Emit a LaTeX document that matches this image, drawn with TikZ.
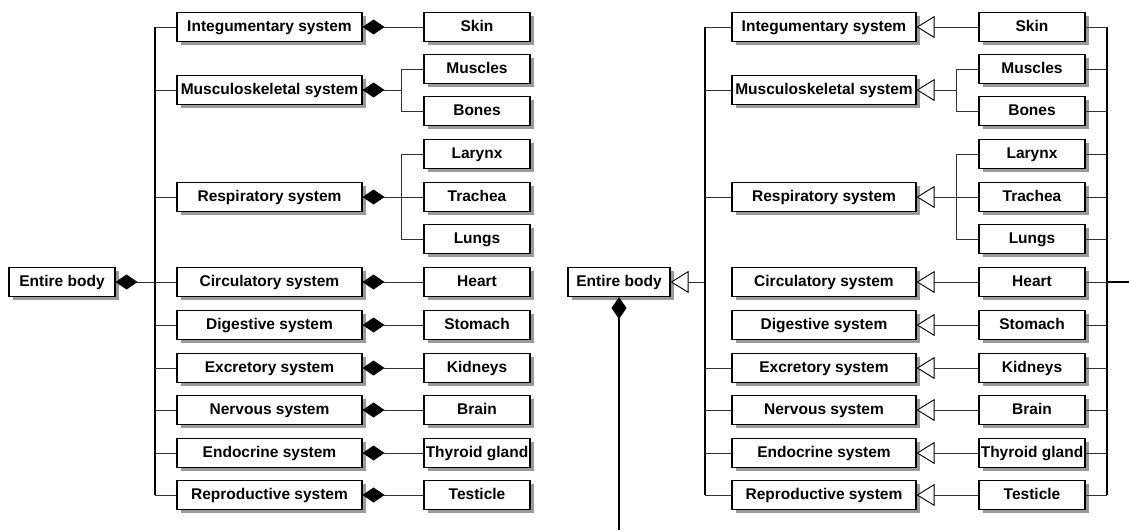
\documentclass[tikz,border=0pt]{standalone}
\usepackage{fontspec}
\setmainfont{Liberation Sans}
\usetikzlibrary{arrows.meta,positioning,shadows}
\definecolor{Shade}{HTML}{9A9A9A}
\definecolor{Wire}{HTML}{333333}
\tikzset{
  partbox/.style={draw, line width=1.1pt, fill=white, minimum height=29pt,
    minimum width=#1, inner sep=1pt, text height=11pt, text depth=1.5pt,
    font=\bfseries\fontsize{15.5}{18}\selectfont,
    general shadow={fill=Shade, shadow xshift=3.5pt, shadow yshift=-3.5pt}},
  partbox/.default={106pt},
  link/.style={line width=0.9pt, color=Wire},
  trunk/.style={line width=1.2pt, color=black},
  comp/.style={link, {Diamond[length=22pt,width=15pt,color=black,fill=black]}-},
  gen/.style={link, {Triangle[open,length=18pt,width=22pt,color=black,fill=white]}-},
}

\begin{document}
\begin{tikzpicture}[x=1pt, y=-1pt]
  \useasboundingbox (0,0) rectangle (1129,530);

  % ---- composition tree
  \node[partbox] (Lbody) at (62,282) {Entire body};
  \foreach \n/\t/\y in {integ/Integumentary system/27, musc/Musculoskeletal system/90,
      resp/Respiratory system/197, circ/Circulatory system/282, dige/Digestive system/325,
      excr/Excretory system/368, nerv/Nervous system/410, endo/Endocrine system/453,
      repr/Reproductive system/495}
    \node[partbox=185pt] (L\n) at (269.5,\y) {\t};
  \foreach \n/\t/\y in {skin/Skin/27, muscles/Muscles/69, bones/Bones/111, larynx/Larynx/154,
      trachea/Trachea/197, lungs/Lungs/239, heart/Heart/282, stomach/Stomach/325,
      kidneys/Kidneys/368, brain/Brain/410, thyroid/Thyroid gland/453, testicle/Testicle/495}
    \node[partbox] (L\n) at (477,\y) {\t};
  \coordinate (lt) at (155,0);
  \coordinate (ls) at (401,0);

  \draw[comp] (Lbody.east) -- (Lbody.east -| lt);
  \draw[trunk] (Linteg.west -| lt) -- (Lrepr.west -| lt);
  \foreach \n in {integ,musc,resp,circ,dige,excr,nerv,endo,repr}
    \draw[link] (L\n.west) -- (L\n.west -| lt);
  \foreach \a/\b in {integ/skin, circ/heart, dige/stomach, excr/kidneys, nerv/brain,
      endo/thyroid, repr/testicle}
    \draw[comp] (L\a.east) -- (L\b.west);
  \draw[comp] (Lmusc.east) -- (Lmusc.east -| ls);
  \draw[comp] (Lresp.east) -- (Lresp.east -| ls);
  \draw[link] (Lmuscles.west -| ls) -- (Lbones.west -| ls);
  \draw[link] (Llarynx.west -| ls) -- (Llungs.west -| ls);
  \foreach \n in {muscles,bones,larynx,trachea,lungs}
    \draw[link] (L\n.west) -- (L\n.west -| ls);

  % ---- generalisation tree
  \node[partbox=102pt] (Rbody) at (619,282) {Entire body};
  \foreach \n/\t/\y in {integ/Integumentary system/27, musc/Musculoskeletal system/90,
      resp/Respiratory system/197, circ/Circulatory system/282, dige/Digestive system/325,
      excr/Excretory system/368, nerv/Nervous system/410, endo/Endocrine system/453,
      repr/Reproductive system/495}
    \node[partbox=184pt] (R\n) at (824,\y) {\t};
  \foreach \n/\t/\y in {skin/Skin/27, muscles/Muscles/69, bones/Bones/111, larynx/Larynx/154,
      trachea/Trachea/197, lungs/Lungs/239, heart/Heart/282, stomach/Stomach/325,
      kidneys/Kidneys/368, brain/Brain/410, thyroid/Thyroid gland/453, testicle/Testicle/495}
    \node[partbox] (R\n) at (1032,\y) {\t};
  \coordinate (rt) at (705,0);
  \coordinate (rs) at (956,0);
  \coordinate (rr) at (1107,0);
  \coordinate (edge) at (1129,282);
  \coordinate (floor) at (619,530);

  \draw[gen] (Rbody.east) -- (Rbody.east -| rt);
  \draw[trunk] (Rinteg.west -| rt) -- (Rrepr.west -| rt);
  \foreach \n in {integ,musc,resp,excr,nerv,endo,repr}
    \draw[link] (R\n.west) -- (R\n.west -| rt);
  \foreach \a/\b in {integ/skin, circ/heart, dige/stomach, excr/kidneys, nerv/brain,
      endo/thyroid, repr/testicle}
    \draw[gen] (R\a.east) -- (R\b.west);
  \draw[gen] (Rmusc.east) -- (Rmusc.east -| rs);
  \draw[gen] (Rresp.east) -- (Rresp.east -| rs);
  \draw[link] (Rmuscles.west -| rs) -- (Rbones.west -| rs);
  \draw[link] (Rlarynx.west -| rs) -- (Rlungs.west -| rs);
  \foreach \n in {muscles,bones,larynx,trachea,lungs}
    \draw[link] (R\n.west) -- (R\n.west -| rs);
  \draw[trunk] (Rskin.east -| rr) -- (Rtesticle.east -| rr);
  \foreach \n in {skin,muscles,bones,larynx,trachea,lungs,heart,stomach,kidneys,brain,
      thyroid,testicle}
    \draw[link] (R\n.east) -- (R\n.east -| rr);
  \draw[trunk] (Rheart.east -| rr) -- (edge);
  \draw[trunk, {Diamond[length=22pt,width=15pt,color=black,fill=black]}-] (Rbody.south) -- (floor);
\end{tikzpicture}
\end{document}
